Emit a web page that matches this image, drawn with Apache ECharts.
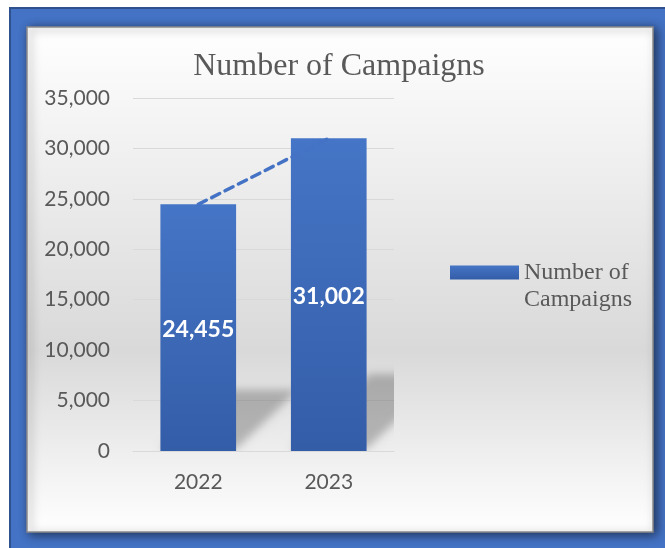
<!DOCTYPE html>
<html>
<head>
<meta charset="utf-8">
<script src="https://cdn.jsdelivr.net/npm/echarts@6/dist/echarts.min.js"></script>
<style>
  html, body { margin: 0; padding: 0; background: #ffffff; }
  #chart { width: 665px; height: 548px; }
</style>
</head>
<body>
<div id="chart"></div>
<script>
// Campaign counts per year
const years = ['2022', '2023'];
const campaigns = [24455, 31002];
const yTickLabels = ['0', '5,000', '10,000', '15,000', '20,000', '25,000', '30,000', '35,000'];
const seriesName = 'Number of Campaigns';

const chart = echarts.init(document.getElementById('chart'), null, { renderer: 'canvas' });

const barColor = new echarts.graphic.LinearGradient(0, 0, 0, 1, [
  { offset: 0, color: '#4575C6' },
  { offset: 1, color: '#345DA8' }
]);
const barWidthShare = 0.58;
// the shadow shape is drawn far off to the left and only its blurred shadow lands in place
const SHADOW_SHIFT = 3000;

chart.setOption({
  animation: false,
  graphic: [
    // blue frame
    {
      type: 'rect', z: -20, silent: true,
      shape: { x: 10, y: 8, width: 670, height: 560 },
      style: { fill: '#4472C4', stroke: '#2F528F', lineWidth: 2 }
    },
    // chart panel with soft grey band
    {
      type: 'rect', z: -19, silent: true,
      shape: { x: 27, y: 27, width: 626, height: 505 },
      style: {
        fill: new echarts.graphic.LinearGradient(0, 0, 0, 1, [
          { offset: 0, color: '#ffffff' },
          { offset: 0.64, color: '#d9d9d9' },
          { offset: 1, color: '#ffffff' }
        ]),
        stroke: '#8a8a8a', lineWidth: 1.5,
        shadowBlur: 10, shadowColor: 'rgba(0,0,0,0.55)', shadowOffsetX: 3, shadowOffsetY: 2
      }
    }
  ],
  title: {
    text: 'Number of Campaigns',
    left: 334, top: 46, textAlign: 'center',
    textStyle: { fontFamily: 'Liberation Serif', fontSize: 32, fontWeight: 'normal', color: '#595959' }
  },
  legend: {
    data: [seriesName],
    left: 450, top: 232, padding: 0,
    icon: 'rect', itemWidth: 69, itemHeight: 14, itemGap: 0,
    formatter: () => '\nNumber of\nCampaigns',
    textStyle: {
      fontFamily: 'Liberation Serif', fontSize: 24, color: '#595959',
      lineHeight: 27
    }
  },
  grid: { left: 133, right: 271, top: 98, bottom: 97, containLabel: false },
  xAxis: {
    type: 'category',
    data: years,
    axisLine: { show: true, lineStyle: { color: '#d9d9d9', width: 1 } },
    axisTick: { show: false },
    axisLabel: { fontFamily: 'Lato', fontSize: 21, color: '#595959', margin: 21 }
  },
  yAxis: {
    type: 'value',
    min: 0, max: 35000, interval: 5000,
    axisLine: { show: false },
    axisTick: { show: false },
    splitLine: { lineStyle: { color: '#d9d9d9', width: 1.2 } },
    axisLabel: {
      fontFamily: 'Lato', fontSize: 21, color: '#595959', margin: 23,
      formatter: v => yTickLabels[Math.round(v / 5000)]
    }
  },
  series: [
    {
      // soft cast shadow behind each column
      type: 'custom',
      name: 'shadow',
      clip: true,
      silent: true,
      z: 1,
      data: campaigns.map((v, i) => [i, v]),
      renderItem: (params, api) => {
        const i = api.value(0);
        const base = api.coord([i, 0]);
        const top = api.coord([i, api.value(1)]);
        const half = api.size([1, 0])[0] * barWidthShare / 2;
        const h = (base[1] - top[1]) * 0.24;
        const dx = h * 1.05;
        const xL = base[0] - half - SHADOW_SHIFT, xR = base[0] + half - SHADOW_SHIFT, y0 = base[1] - 2;
        return {
          type: 'polygon',
          shape: { points: [[xL, y0], [xR, y0], [xR + dx, y0 - h], [xL + dx, y0 - h]] },
          style: {
            fill: '#000',
            shadowBlur: 9,
            shadowColor: 'rgba(0,0,0,0.24)',
            shadowOffsetX: SHADOW_SHIFT
          }
        };
      }
    },
    {
      type: 'bar',
      name: seriesName,
      data: campaigns,
      barWidth: (barWidthShare * 100) + '%',
      z: 2,
      itemStyle: { color: barColor },
      label: {
        show: true, position: 'inside', offset: [0, 2],
        fontFamily: 'Lato', fontWeight: 'bold', fontSize: 23, color: '#ffffff',
        formatter: p => p.value.toLocaleString('en-US')
      }
    },
    {
      // linear trendline through the yearly counts
      type: 'line',
      name: 'Linear (Number of Campaigns)',
      data: campaigns,
      z: 3,
      symbol: 'none',
      lineStyle: { color: '#4472C4', width: 3.5, type: [9, 6], cap: 'round' }
    }
  ]
});
</script>
</body>
</html>
